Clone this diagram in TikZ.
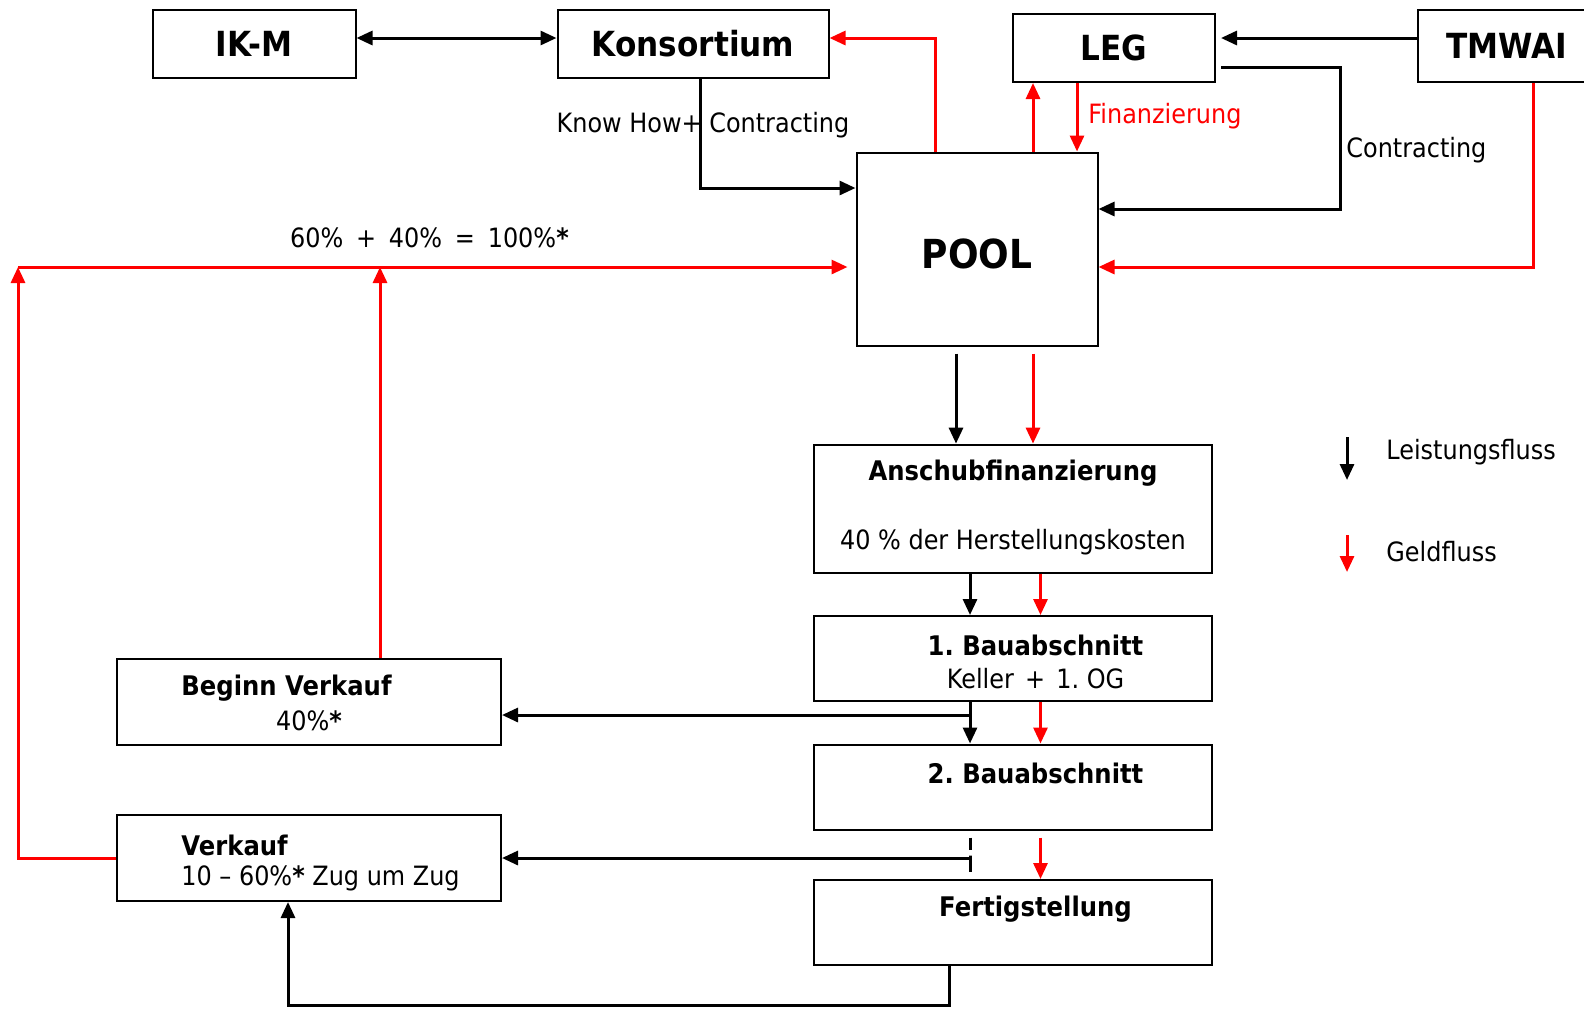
\documentclass[tikz,border=0pt]{standalone}
\usepackage{fontspec}
\setmainfont{DejaVu Sans}[FakeStretch=0.9]
\usetikzlibrary{arrows.meta,calc}
\frenchspacing

\begin{document}
\begin{tikzpicture}[x=0.5pt,y=-0.5pt,>={Triangle[length=8pt,width=7pt]},
  box/.style={draw,line width=1pt,inner sep=0pt},
  big/.style={font=\fontsize{17.3}{20}\selectfont\bfseries},
  head/.style={font=\fontsize{13.5}{16}\selectfont\bfseries,inner sep=0pt},
  txt/.style={font=\fontsize{13.3}{16}\selectfont,inner sep=0pt},
  leist/.style={->,line width=1.5pt},
  geld/.style={->,red,line width=1.5pt}]
  \useasboundingbox (0,0) rectangle (1584,1008);
  % Beteiligte
  \node[box,big,minimum width=101.5pt,minimum height=34pt] (ikm) at (254,44) {IK-M};
  \node[box,big,minimum width=135.5pt,minimum height=34pt] (kons) at (693,44) {Konsortium};
  \node[box,big,minimum width=101pt,minimum height=34pt] (leg) at (1114,48) {LEG};
  \node[box,big,minimum width=89pt,minimum height=36pt] (tmwai) at (1507,46) {TMWAI};
  \node[box,minimum width=120.5pt,minimum height=96.5pt] (pool) at (977,249) {};
  \node[font=\fontsize{20}{24}\selectfont\bfseries,inner sep=0pt] (poolT) at ($(pool.center)+(0,5)$) {POOL};
  % Ablauf
  \node[box,minimum width=199pt,minimum height=64pt] (anschub) at (1013,508.6) {};
  \node[box,minimum width=199pt,minimum height=42.5pt] (bau1) at (1013,658.5) {};
  \node[box,minimum width=199pt,minimum height=42.5pt] (bau2) at (1013,787) {};
  \node[box,minimum width=199pt,minimum height=42.5pt] (fertig) at (1013,922.5) {};
  \node[box,minimum width=192pt,minimum height=43pt] (bv) at (309,701.5) {};
  \node[box,minimum width=192pt,minimum height=43pt] (vk) at (309,858) {};
  \node[head] (anschubT) at ($(anschub.north)+(0,30)$) {Anschubfinanzierung};
  \node[txt] (anschubS) at ($(anschub.south)+(0,-31)$) {40 \% der Herstellungskosten};
  \node[head] (bau1T) at ($(bau1.north)+(22.5,30)$) {1. Bauabschnitt};
  \node[txt] (bau1S) at ($(bau1.north)+(22.5,64)$) {Keller\hspace{0.42em}+\hspace{0.42em}1. OG};
  \node[head] (bau2T) at ($(bau2.north)+(22.5,30)$) {2. Bauabschnitt};
  \node[head] (fertigT) at ($(fertig.north)+(22.5,30)$) {Fertigstellung};
  \node[head,anchor=west] (bvT) at ($(bv.west)+(65,-13)$) {Beginn Verkauf};
  \node[txt] (bvS) at ($(bv.center)+(0,19.5)$) {40\%\textbf{*}};
  \node[head,anchor=west] (vkT) at ($(vk.west)+(65,-13)$) {Verkauf};
  \node[txt,anchor=west] (vkS) at ($(vk.west)+(65,20)$) {10 – 60\%\textbf{*} Zug um Zug};
  % Hilfspunkte
  \coordinate (lcorner) at (18,267);
  \coordinate (ctturn) at (1340,130);
  \coordinate (vbot) at (288,1005);
  \coordinate (pa) at ($(pool.north)+(56,0)$);
  \coordinate (pb) at ($(pool.north)+(100,0)$);
  \coordinate (tl) at ($(tmwai.west)+(0,-8)$);
  \coordinate (bvr) at ($(bv.north)+(71,0)$);
  \coordinate (p1) at ($(pool.south)+(-21,7)$);
  \coordinate (p2) at ($(pool.south)+(56,7)$);
  \coordinate (s1) at ($(anschub.south)+(-43,0)$);
  \coordinate (s2) at ($(anschub.south)+(27.5,0)$);
  \coordinate (d1) at (s1 |- bau2.south);
  \coordinate (d2) at (s2 |- bau2.south);
  \coordinate (f1) at ($(fertig.south)+(-64,0)$);
  % oben
  \draw[leist,<->] ($(ikm.east)+(0,-6)$) -- ($(kons.west)+(0,-6)$);
  \draw[geld] ($(pool.north)+(-42,0)$) |- ($(kons.east)+(0,-6)$);
  \draw[leist] ($(kons.south)+(7,0)$) |- ($(pool.west)+(0,-61)$);
  \node[txt] (knowhow) at ($(kons.south)+(10,46)$) {Know How+ Contracting};
  \draw[geld] (pa) -- (pa |- leg.south);
  \draw[geld] (pb |- leg.south) -- (pb);
  \node[txt,red,anchor=west] (fin) at ($(pb)+(11,-35)$) {Finanzierung};
  \draw[leist] ($(leg.east)+(5,19)$) -| (ctturn) |- ($(pool.east)+(0,-40)$);
  \node[txt,anchor=west] (contr) at ($(ctturn)+(6,20)$) {Contracting};
  \draw[leist] (tl) -- ($(leg.east |- tl)+(5,0)$);
  \draw[geld] ($(tmwai.south)+(26,0)$) |- ($(pool.east)+(0,18)$);
  % Rueckfluss
  \draw[geld] (vk.west) -| (lcorner);
  \draw[geld] (lcorner) -- ($(pool.west)+(-8,18)$);
  \draw[geld] (bvr) -- (bvr |- lcorner);
  \node[txt] (summe) at (429.5,238) {60\%\hspace{0.48em}+\hspace{0.48em}40\%\hspace{0.48em}=\hspace{0.48em}100\%\textbf{*}};
  % unten
  \draw[leist] (p1) -- (p1 |- anschub.north);
  \draw[geld] (p2) -- (p2 |- anschub.north);
  \draw[leist] (s1) -- (s1 |- bau1.north);
  \draw[geld] (s2) -- (s2 |- bau1.north);
  \draw[leist] (s1 |- bau1.south) -- (s1 |- bau2.north);
  \draw[geld] (s2 |- bau1.south) -- (s2 |- bau2.north);
  \draw[leist] (s1 |- bau1.south) |- ($(bv.east)+(0,13.5)$);
  \draw[line width=1.5pt] ($(d1)+(0,7)$) -- ++(0,12);
  \draw[leist] ($(d1)+(0,41)$) -- ($(d1)+(0,25)$) |- (vk.east);
  \draw[geld] ($(d2)+(0,7)$) -- (d2 |- fertig.north);
  \draw[leist] (f1) |- (vbot) -- (vbot |- vk.south);
  % Legende
  \coordinate (legL) at (1347,437);
  \coordinate (legG) at (1347,535);
  \draw[leist] (legL) -- ++(0,43);
  \draw[geld] (legG) -- ++(0,37);
  \node[txt,anchor=west] (lleist) at (1386,452) {Leistungsfluss};
  \node[txt,anchor=west] (lgeld) at (1386,552) {Geldfluss};
\end{tikzpicture}
\end{document}
